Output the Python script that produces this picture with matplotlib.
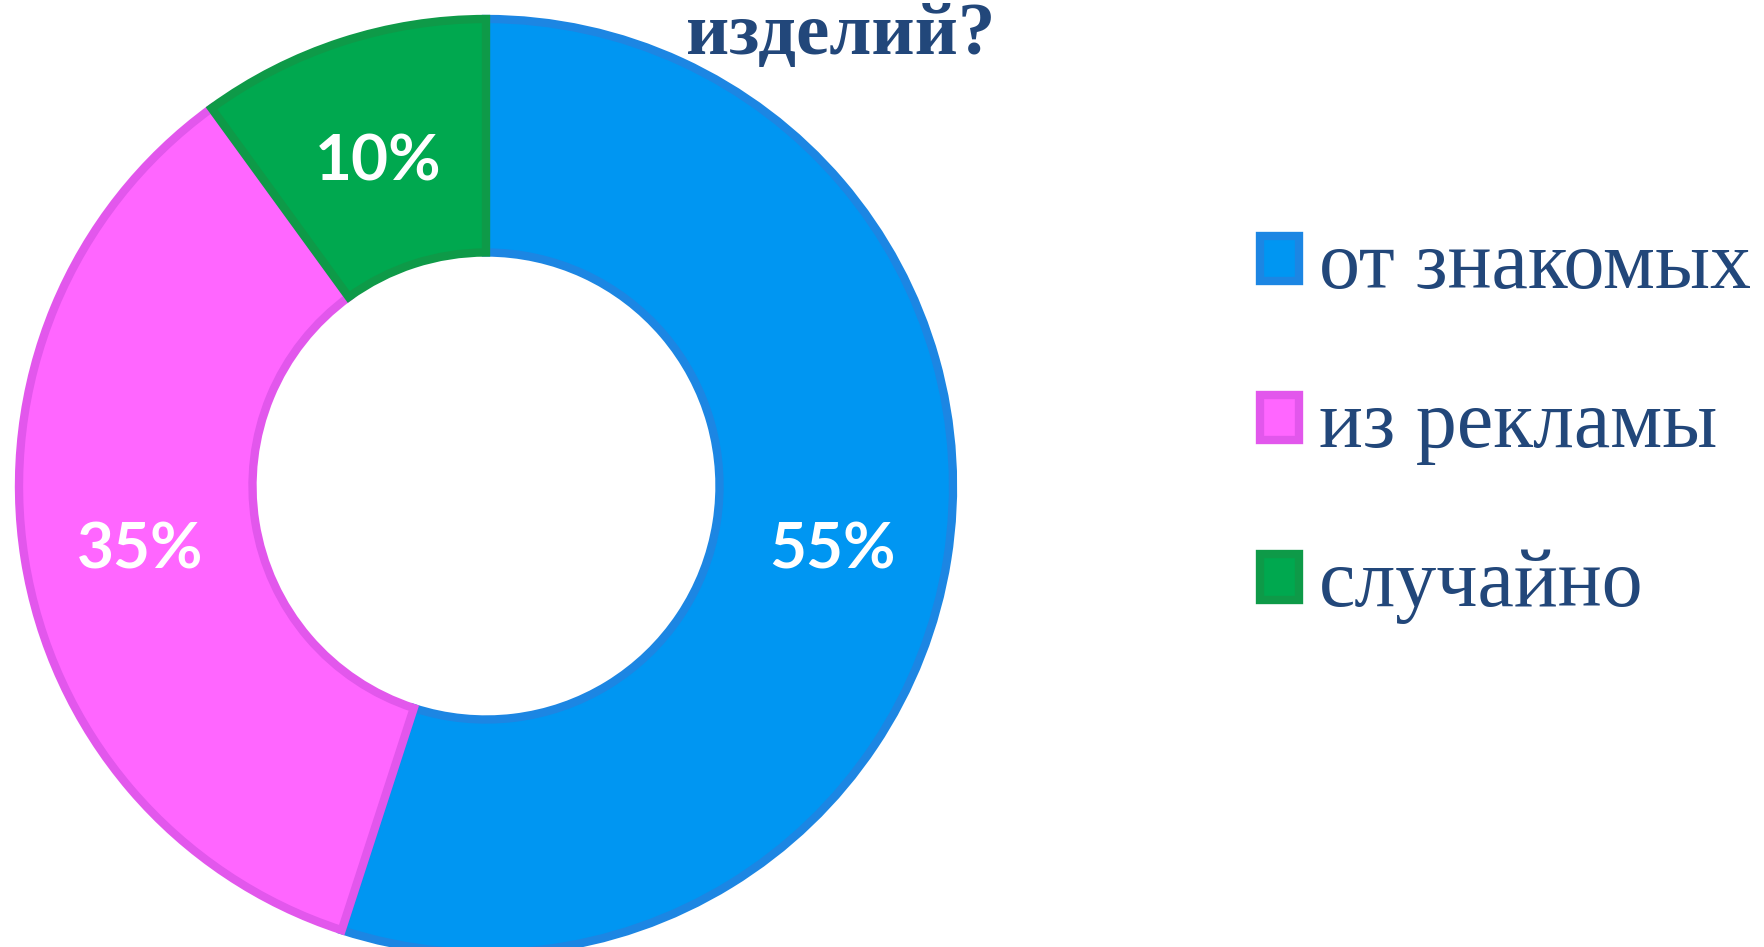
import matplotlib.pyplot as plt
from matplotlib.transforms import offset_copy

# Данные
labels = ['от знакомых', 'из рекламы', 'случайно']
values = [55, 35, 10]
colors = ['#0096F2', '#FF66FF', '#00A84F']
edges = ['#1C86E3', '#E257EC', '#0E9A48']
title = 'изделий?'

fig = plt.figure(figsize=(17.64, 9.47), dpi=100)
ax = fig.add_axes([19 / 1764, -6 / 947, 934 / 1764, 934 / 947])

wedges, texts = ax.pie(values, colors=colors, startangle=90, counterclock=False,
                       radius=1.0, labels=[f'{v}%' for v in values], labeldistance=0.75,
                       wedgeprops=dict(width=0.5, linewidth=6),
                       textprops=dict(color='white', fontsize=46, family='Lato',
                                      fontweight='bold'))
for w, ec in zip(wedges, edges):
    w.set_edgecolor(ec)
# сдвинуть подписи немного вниз
for t in texts:
    t.set_ha('center')
    t.set_va('center')
    t.set_transform(offset_copy(t.get_transform(), fig=fig, x=0, y=-9, units='dots'))

ax.set_xlim(-1, 1)
ax.set_ylim(-1, 1)
ax.set_aspect('equal')
ax.axis('off')

fig.text(686 / 1764, 1 - 54 / 947, title, fontsize=54, fontweight='bold',
         family='Liberation Serif', color='#22477A', ha='left', va='baseline')

fig.legend(wedges, labels, loc='center left', bbox_to_anchor=(1260 / 1764, 1 - 427 / 947),
           frameon=False, borderpad=0, borderaxespad=0, handlelength=0.48, handleheight=0.48,
           handletextpad=0.24, labelspacing=1.02,
           prop=dict(family='Liberation Serif', size=59), labelcolor='#22477A')

fig.savefig('out.png', dpi=100)
